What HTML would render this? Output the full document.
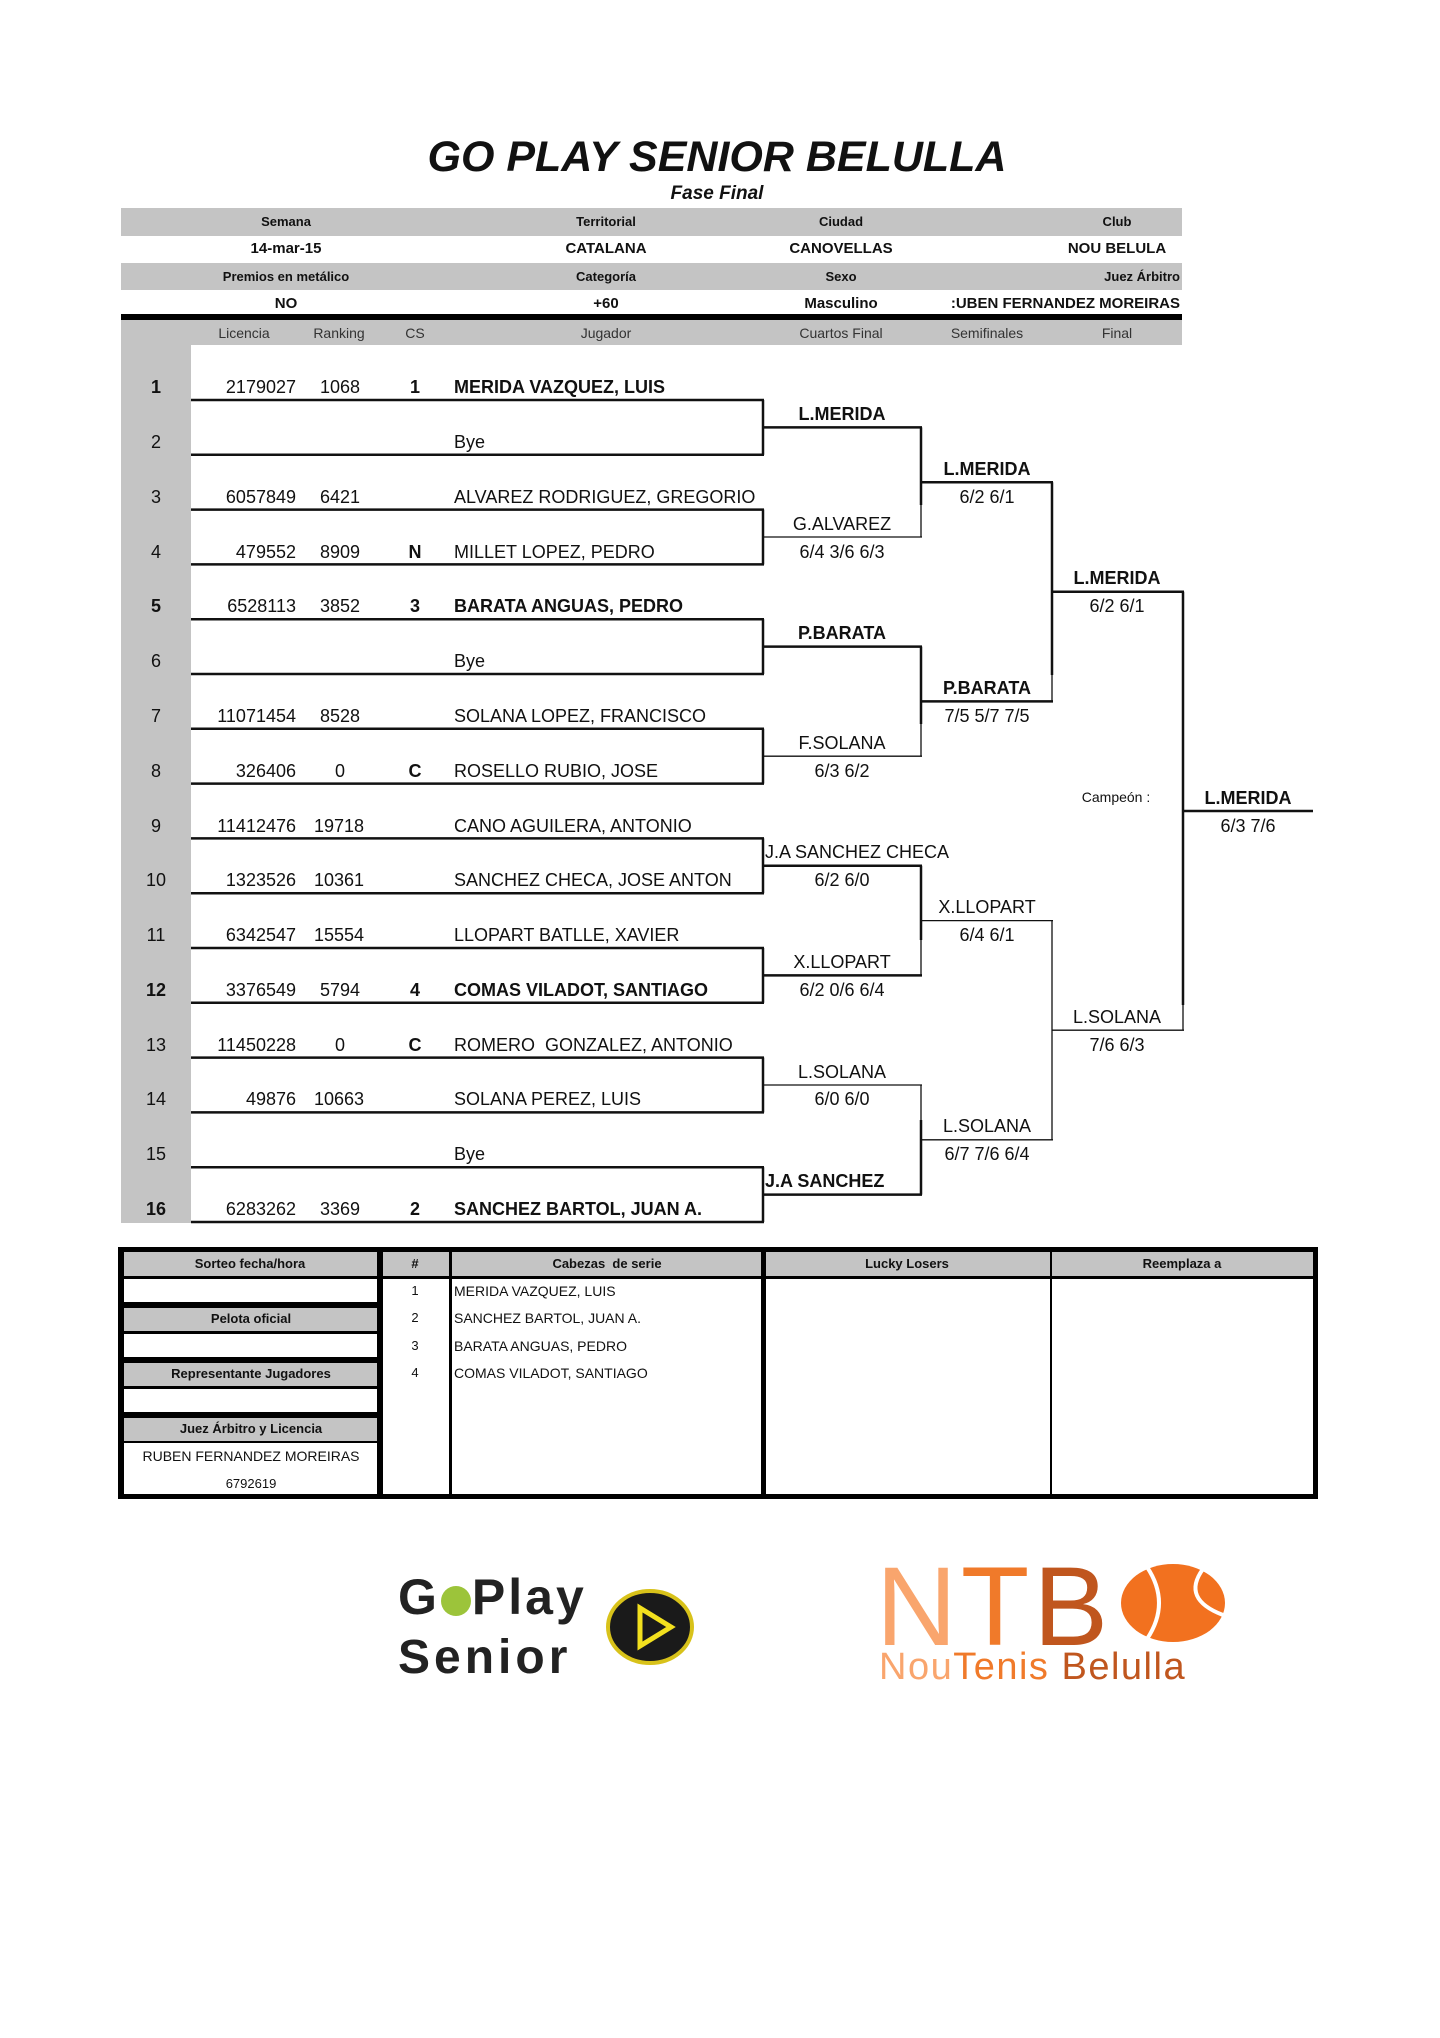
<!DOCTYPE html>
<html><head><meta charset="utf-8">
<style>
*{margin:0;padding:0;box-sizing:border-box}
body{width:1440px;height:2038px;background:#fff;position:relative;font-family:"Liberation Sans",Arial,sans-serif;color:#111;overflow:hidden}
.a{position:absolute;white-space:nowrap;line-height:1}
.c{transform:translateX(-50%)}
.r{transform:translateX(-100%)}
.b{font-weight:bold}
.g{position:absolute;background:#c4c4c4}
.p{font-size:18px}
.h{font-size:13px;font-weight:bold}
.v{font-size:15px;font-weight:bold}
.ch{font-size:14px;color:#333}
.bt{font-size:14px}
</style></head><body>

<div class="a c b" style="left:717px;top:136px;font-size:43px;font-style:italic">GO PLAY SENIOR BELULLA</div>
<div class="a c b" style="left:717px;top:184px;font-size:19px;font-style:italic">Fase Final</div>

<div class="g" style="left:121px;top:208px;width:1061px;height:28px"></div>
<div class="g" style="left:121px;top:263px;width:1061px;height:27px"></div>
<div style="position:absolute;left:121px;top:314px;width:1061px;height:6px;background:#000"></div>
<div class="g" style="left:121px;top:320px;width:1061px;height:25px"></div>
<div class="g" style="left:121px;top:345px;width:70px;height:878px"></div>

<div class="a c h" style="left:286px;top:215px">Semana</div>
<div class="a c h" style="left:606px;top:215px">Territorial</div>
<div class="a c h" style="left:841px;top:215px">Ciudad</div>
<div class="a c h" style="left:1117px;top:215px">Club</div>
<div class="a c v" style="left:286px;top:241px">14-mar-15</div>
<div class="a c v" style="left:606px;top:241px">CATALANA</div>
<div class="a c v" style="left:841px;top:241px">CANOVELLAS</div>
<div class="a c v" style="left:1117px;top:241px">NOU BELULA</div>
<div class="a c h" style="left:286px;top:270px">Premios en metálico</div>
<div class="a c h" style="left:606px;top:270px">Categoría</div>
<div class="a c h" style="left:841px;top:270px">Sexo</div>
<div class="a r h" style="left:1180px;top:270px">Juez Árbitro</div>
<div class="a c v" style="left:286px;top:296px">NO</div>
<div class="a c v" style="left:606px;top:296px">+60</div>
<div class="a c v" style="left:841px;top:296px">Masculino</div>
<div class="a r v" style="left:1180px;top:296px">:UBEN FERNANDEZ MOREIRAS</div>

<div class="a c ch" style="left:244px;top:326px">Licencia</div>
<div class="a c ch" style="left:339px;top:326px">Ranking</div>
<div class="a c ch" style="left:415px;top:326px">CS</div>
<div class="a c ch" style="left:606px;top:326px">Jugador</div>
<div class="a c ch" style="left:841px;top:326px">Cuartos Final</div>
<div class="a c ch" style="left:987px;top:326px">Semifinales</div>
<div class="a c ch" style="left:1117px;top:326px">Final</div>

<svg style="position:absolute;left:0;top:0" width="1440" height="2038">
<g stroke="#111" fill="none">
<g stroke-width="2.5">
<line x1="191" y1="400" x2="764" y2="400"/><line x1="191" y1="454.8" x2="764" y2="454.8"/>
<line x1="191" y1="509.6" x2="764" y2="509.6"/><line x1="191" y1="564.4" x2="764" y2="564.4"/>
<line x1="191" y1="619.2" x2="764" y2="619.2"/><line x1="191" y1="674" x2="764" y2="674"/>
<line x1="191" y1="728.8" x2="764" y2="728.8"/><line x1="191" y1="783.6" x2="764" y2="783.6"/>
<line x1="191" y1="838.4" x2="764" y2="838.4"/><line x1="191" y1="893.2" x2="764" y2="893.2"/>
<line x1="191" y1="948" x2="764" y2="948"/><line x1="191" y1="1002.8" x2="764" y2="1002.8"/>
<line x1="191" y1="1057.6" x2="764" y2="1057.6"/><line x1="191" y1="1112.4" x2="764" y2="1112.4"/>
<line x1="191" y1="1167.2" x2="764" y2="1167.2"/><line x1="191" y1="1222" x2="764" y2="1222"/>
<line x1="763" y1="400" x2="763" y2="454.8"/><line x1="763" y1="509.6" x2="763" y2="564.4"/>
<line x1="763" y1="619.2" x2="763" y2="674"/><line x1="763" y1="728.8" x2="763" y2="783.6"/>
<line x1="763" y1="838.4" x2="763" y2="893.2"/><line x1="763" y1="948" x2="763" y2="1002.8"/>
<line x1="763" y1="1057.6" x2="763" y2="1112.4"/><line x1="763" y1="1167.2" x2="763" y2="1222"/>
<line x1="763" y1="427.4" x2="922" y2="427.4"/>
<line x1="763" y1="646.6" x2="922" y2="646.6"/>
<line x1="763" y1="865.8" x2="922" y2="865.8"/>
<line x1="763" y1="975.4" x2="922" y2="975.4"/>
<line x1="763" y1="1194.6" x2="922" y2="1194.6"/>
<line x1="921" y1="427.4" x2="921" y2="505"/>
<line x1="921" y1="646.6" x2="921" y2="724"/>
<line x1="921" y1="865.8" x2="921" y2="940"/>
<line x1="921" y1="1120" x2="921" y2="1194.6"/>
<line x1="921" y1="482.2" x2="1053" y2="482.2"/>
<line x1="921" y1="701.4" x2="1053" y2="701.4"/>
<line x1="1052" y1="482.2" x2="1052" y2="675"/>
<line x1="1052" y1="591.8" x2="1184" y2="591.8"/>
<line x1="1183" y1="591.8" x2="1183" y2="1005"/>
<line x1="1183" y1="811" x2="1313" y2="811"/>
</g>
<g stroke-width="1.3">
<line x1="763" y1="537" x2="922" y2="537"/>
<line x1="763" y1="756.2" x2="922" y2="756.2"/>
<line x1="763" y1="1085" x2="922" y2="1085"/>
<line x1="921" y1="505" x2="921" y2="537"/>
<line x1="921" y1="724" x2="921" y2="756.2"/>
<line x1="921" y1="940" x2="921" y2="975.4"/>
<line x1="921" y1="1085" x2="921" y2="1120"/>
<line x1="921" y1="920.6" x2="1053" y2="920.6"/>
<line x1="921" y1="1139.8" x2="1053" y2="1139.8"/>
<line x1="1052" y1="920.6" x2="1052" y2="1139.8"/>
<line x1="1052" y1="675" x2="1052" y2="701.4"/>
<line x1="1052" y1="1030.2" x2="1184" y2="1030.2"/>
<line x1="1183" y1="1005" x2="1183" y2="1030.2"/>
</g>
</g>
</svg>

<div class="a c p b" style="left:156px;top:378px">1</div><div class="a r p" style="left:296px;top:378px">2179027</div><div class="a r p" style="left:360px;top:378px">1068</div><div class="a c p b" style="left:415px;top:378px">1</div><div class="a p b" style="left:454px;top:378px">MERIDA VAZQUEZ, LUIS</div>
<div class="a c p" style="left:156px;top:433px">2</div><div class="a p" style="left:454px;top:433px">Bye</div>
<div class="a c p" style="left:156px;top:488px">3</div><div class="a r p" style="left:296px;top:488px">6057849</div><div class="a r p" style="left:360px;top:488px">6421</div><div class="a p" style="left:454px;top:488px">ALVAREZ RODRIGUEZ, GREGORIO</div>
<div class="a c p" style="left:156px;top:543px">4</div><div class="a r p" style="left:296px;top:543px">479552</div><div class="a r p" style="left:360px;top:543px">8909</div><div class="a c p b" style="left:415px;top:543px">N</div><div class="a p" style="left:454px;top:543px">MILLET LOPEZ, PEDRO</div>
<div class="a c p b" style="left:156px;top:597px">5</div><div class="a r p" style="left:296px;top:597px">6528113</div><div class="a r p" style="left:360px;top:597px">3852</div><div class="a c p b" style="left:415px;top:597px">3</div><div class="a p b" style="left:454px;top:597px">BARATA ANGUAS, PEDRO</div>
<div class="a c p" style="left:156px;top:652px">6</div><div class="a p" style="left:454px;top:652px">Bye</div>
<div class="a c p" style="left:156px;top:707px">7</div><div class="a r p" style="left:296px;top:707px">11071454</div><div class="a r p" style="left:360px;top:707px">8528</div><div class="a p" style="left:454px;top:707px">SOLANA LOPEZ, FRANCISCO</div>
<div class="a c p" style="left:156px;top:762px">8</div><div class="a r p" style="left:296px;top:762px">326406</div><div class="a r p" style="left:345px;top:762px">0</div><div class="a c p b" style="left:415px;top:762px">C</div><div class="a p" style="left:454px;top:762px">ROSELLO RUBIO, JOSE</div>
<div class="a c p" style="left:156px;top:817px">9</div><div class="a r p" style="left:296px;top:817px">11412476</div><div class="a r p" style="left:364px;top:817px">19718</div><div class="a p" style="left:454px;top:817px">CANO AGUILERA, ANTONIO</div>
<div class="a c p" style="left:156px;top:871px">10</div><div class="a r p" style="left:296px;top:871px">1323526</div><div class="a r p" style="left:364px;top:871px">10361</div><div class="a p" style="left:454px;top:871px">SANCHEZ CHECA, JOSE ANTON</div>
<div class="a c p" style="left:156px;top:926px">11</div><div class="a r p" style="left:296px;top:926px">6342547</div><div class="a r p" style="left:364px;top:926px">15554</div><div class="a p" style="left:454px;top:926px">LLOPART BATLLE, XAVIER</div>
<div class="a c p b" style="left:156px;top:981px">12</div><div class="a r p" style="left:296px;top:981px">3376549</div><div class="a r p" style="left:360px;top:981px">5794</div><div class="a c p b" style="left:415px;top:981px">4</div><div class="a p b" style="left:454px;top:981px">COMAS VILADOT, SANTIAGO</div>
<div class="a c p" style="left:156px;top:1036px">13</div><div class="a r p" style="left:296px;top:1036px">11450228</div><div class="a r p" style="left:345px;top:1036px">0</div><div class="a c p b" style="left:415px;top:1036px">C</div><div class="a p" style="left:454px;top:1036px">ROMERO&nbsp; GONZALEZ, ANTONIO</div>
<div class="a c p" style="left:156px;top:1090px">14</div><div class="a r p" style="left:296px;top:1090px">49876</div><div class="a r p" style="left:364px;top:1090px">10663</div><div class="a p" style="left:454px;top:1090px">SOLANA PEREZ, LUIS</div>
<div class="a c p" style="left:156px;top:1145px">15</div><div class="a p" style="left:454px;top:1145px">Bye</div>
<div class="a c p b" style="left:156px;top:1200px">16</div><div class="a r p" style="left:296px;top:1200px">6283262</div><div class="a r p" style="left:360px;top:1200px">3369</div><div class="a c p b" style="left:415px;top:1200px">2</div><div class="a p b" style="left:454px;top:1200px">SANCHEZ BARTOL, JUAN A.</div>

<div class="a c p b" style="left:842px;top:405px">L.MERIDA</div>
<div class="a c p" style="left:842px;top:515px">G.ALVAREZ</div><div class="a c p" style="left:842px;top:543px">6/4 3/6 6/3</div>
<div class="a c p b" style="left:842px;top:624px">P.BARATA</div>
<div class="a c p" style="left:842px;top:734px">F.SOLANA</div><div class="a c p" style="left:842px;top:762px">6/3 6/2</div>
<div class="a p" style="left:765px;top:843px">J.A SANCHEZ CHECA</div><div class="a c p" style="left:842px;top:871px">6/2 6/0</div>
<div class="a c p" style="left:842px;top:953px">X.LLOPART</div><div class="a c p" style="left:842px;top:981px">6/2 0/6 6/4</div>
<div class="a c p" style="left:842px;top:1063px">L.SOLANA</div><div class="a c p" style="left:842px;top:1090px">6/0 6/0</div>
<div class="a p b" style="left:765px;top:1172px">J.A SANCHEZ</div>
<div class="a c p b" style="left:987px;top:460px">L.MERIDA</div><div class="a c p" style="left:987px;top:488px">6/2 6/1</div>
<div class="a c p b" style="left:987px;top:679px">P.BARATA</div><div class="a c p" style="left:987px;top:707px">7/5 5/7 7/5</div>
<div class="a c p" style="left:987px;top:898px">X.LLOPART</div><div class="a c p" style="left:987px;top:926px">6/4 6/1</div>
<div class="a c p" style="left:987px;top:1117px">L.SOLANA</div><div class="a c p" style="left:987px;top:1145px">6/7 7/6 6/4</div>
<div class="a c p b" style="left:1117px;top:569px">L.MERIDA</div><div class="a c p" style="left:1117px;top:597px">6/2 6/1</div>
<div class="a c p" style="left:1117px;top:1008px">L.SOLANA</div><div class="a c p" style="left:1117px;top:1036px">7/6 6/3</div>
<div class="a c" style="left:1116px;top:790px;font-size:14px">Campeón :</div>
<div class="a c p b" style="left:1248px;top:789px">L.MERIDA</div><div class="a c p" style="left:1248px;top:817px">6/3 7/6</div>

<div style="position:absolute;left:118px;top:1247px;width:1200px;height:252px;background:#000"></div>
<div class="g" style="left:124px;top:1252px;width:253px;height:24px"></div>
<div style="position:absolute;left:124px;top:1279px;width:253px;height:23px;background:#fff"></div>
<div class="g" style="left:124px;top:1308px;width:253px;height:23px"></div>
<div style="position:absolute;left:124px;top:1334px;width:253px;height:23px;background:#fff"></div>
<div class="g" style="left:124px;top:1363px;width:253px;height:23px"></div>
<div style="position:absolute;left:124px;top:1389px;width:253px;height:23px;background:#fff"></div>
<div class="g" style="left:124px;top:1418px;width:253px;height:23px"></div>
<div style="position:absolute;left:124px;top:1443px;width:253px;height:51px;background:#fff"></div>

<div class="g" style="left:383px;top:1252px;width:66px;height:24px"></div>
<div class="g" style="left:452px;top:1252px;width:309px;height:24px"></div>
<div class="g" style="left:766px;top:1252px;width:284px;height:24px"></div>
<div class="g" style="left:1052px;top:1252px;width:261px;height:24px"></div>
<div style="position:absolute;left:383px;top:1279px;width:66px;height:215px;background:#fff"></div>
<div style="position:absolute;left:452px;top:1279px;width:309px;height:215px;background:#fff"></div>
<div style="position:absolute;left:766px;top:1279px;width:284px;height:215px;background:#fff"></div>
<div style="position:absolute;left:1052px;top:1279px;width:261px;height:215px;background:#fff"></div>

<div class="a c h" style="left:250px;top:1257px">Sorteo fecha/hora</div>
<div class="a c h" style="left:251px;top:1312px">Pelota oficial</div>
<div class="a c h" style="left:251px;top:1367px">Representante Jugadores</div>
<div class="a c h" style="left:251px;top:1422px">Juez Árbitro y Licencia</div>
<div class="a c bt" style="left:251px;top:1449px">RUBEN FERNANDEZ MOREIRAS</div>
<div class="a c" style="left:251px;top:1477px;font-size:13px">6792619</div>
<div class="a c h" style="left:415px;top:1257px">#</div>
<div class="a c h" style="left:607px;top:1257px">Cabezas&nbsp; de serie</div>
<div class="a c h" style="left:907px;top:1257px">Lucky Losers</div>
<div class="a c h" style="left:1182px;top:1257px">Reemplaza a</div>
<div class="a c" style="left:415px;top:1284px;font-size:13px">1</div><div class="a" style="left:454px;top:1284px;font-size:14px">MERIDA VAZQUEZ, LUIS</div>
<div class="a c" style="left:415px;top:1311px;font-size:13px">2</div><div class="a" style="left:454px;top:1311px;font-size:14px">SANCHEZ BARTOL, JUAN A.</div>
<div class="a c" style="left:415px;top:1339px;font-size:13px">3</div><div class="a" style="left:454px;top:1339px;font-size:14px">BARATA ANGUAS, PEDRO</div>
<div class="a c" style="left:415px;top:1366px;font-size:13px">4</div><div class="a" style="left:454px;top:1366px;font-size:14px">COMAS VILADOT, SANTIAGO</div>

<div class="a" style="left:398px;top:1572px;font-size:50px;font-weight:bold;color:#222;letter-spacing:3px">G<span style="display:inline-block;width:30px;height:30px;border-radius:50%;background:#9cc43a;vertical-align:-2px;margin:0 1px"></span>Play</div>
<div class="a" style="left:398px;top:1634px;font-size:48px;font-weight:bold;color:#222;letter-spacing:4px">Senior</div>
<svg style="position:absolute;left:605px;top:1588px" width="90" height="78">
<ellipse cx="45" cy="39" rx="42" ry="36" fill="#1a1a1a" stroke="#d8c21a" stroke-width="4"/>
<polygon points="35,20 66,39 35,58" fill="none" stroke="#f2e01e" stroke-width="5"/>
</svg>

<div class="a" style="left:876px;top:1551px;font-size:112px;letter-spacing:4px"><span style="color:#f9a56d">N</span><span style="color:#f07a2a">T</span><span style="color:#c0561e">B</span></div>
<svg style="position:absolute;left:1119px;top:1563px" width="110" height="82">
<ellipse cx="54" cy="40" rx="52" ry="39" fill="#f2711f"/>
<path d="M28 4 Q52 40 28 76" stroke="#fff" stroke-width="4" fill="none"/>
<path d="M84 6 Q62 36 104 52" stroke="#fff" stroke-width="4" fill="none"/>
</svg>
<div class="a" style="left:879px;top:1648px;font-size:38px;letter-spacing:1.5px"><span style="color:#f9a56d">Nou</span><span style="color:#f07a2a">Tenis</span> <span style="color:#c0561e">Belulla</span></div>

</body></html>
